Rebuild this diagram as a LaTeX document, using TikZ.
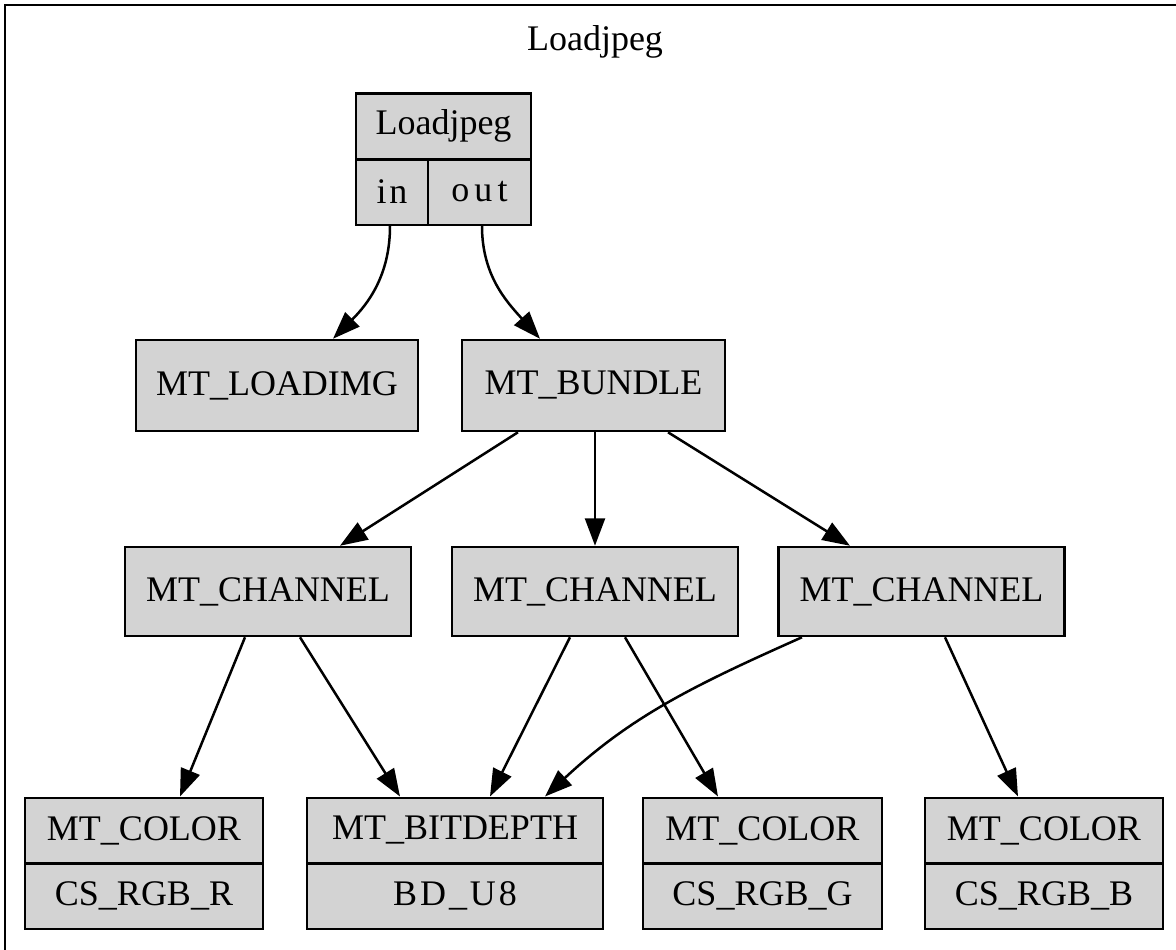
\documentclass[tikz,border=0pt]{standalone}
\usepackage{fontspec}
\setmainfont{Liberation Serif}
\usetikzlibrary{ arrows.meta, % For the filled arrow heads
                 calc,        % For shifted end points on the nodes
               }
\definecolor{lightgrey}{HTML}{D3D3D3}
\tikzstyle{edge} = [-{Triangle[length=11pt,width=8pt]}, line width=1pt]
\tikzstyle{block} = [rectangle, draw=black, line width=1pt, fill=lightgrey, inner sep=0pt, font=\fontsize{14.4}{16}\selectfont]
\tikzstyle{channel} = [block, minimum width=114.4pt, minimum height=35.6pt]
\tikzstyle{field} = [block, minimum height=26.2pt]
\newcommand{\spaced}[2]{{\addfontfeature{LetterSpace=#1}#2}}

\begin{document}
\begin{tikzpicture}[x=0.4pt, y=0.4pt]
  \clip (0,0) rectangle (1176,-949);
  \draw[line width=1pt] (5,-5) rectangle (1200,-980);
  \node (title) [font=\fontsize{14.4}{16}\selectfont] at (595,-42) {Loadjpeg};

  % the record on top
  \node (jpeg) [field, minimum width=70pt] at (443.5,-126) {Loadjpeg};
  \node (jin) [field, minimum width=28.8pt] at (392,-192) {\spaced{8}{in}};
  \node (jout) [field, minimum width=41.2pt] at (479.5,-192) {\spaced{14}{out}};

  \node (loadimg) [block, minimum width=112.8pt, minimum height=36.4pt] at (277,-385.5) {MT\_LOADIMG};
  \node (bundle) [block, minimum width=105.2pt, minimum height=36.4pt] at (593.5,-385.5) {MT\_BUNDLE};

  \node (ch1) [channel] at (268,-591.5) {MT\_CHANNEL};
  \node (ch2) [channel] at (595,-591.5) {MT\_CHANNEL};
  \node (ch3) [channel] at (921.5,-591.5) {MT\_CHANNEL};

  \node (colr) [field, minimum width=95.2pt] at (144,-830.5) {MT\_COLOR};
  \node (colrv) [field, minimum width=95.2pt] at (144,-896) {CS\_RGB\_R};
  \node (bd) [field, minimum width=118.4pt] at (455,-830.5) {MT\_BITDEPTH};
  \node (bdv) [field, minimum width=118.4pt] at (455,-896) {\spaced{8}{BD\_U8}};
  \node (colg) [field, minimum width=95.6pt] at (762.5,-830.5) {MT\_COLOR};
  \node (colgv) [field, minimum width=95.6pt] at (762.5,-896) {CS\_RGB\_G};
  \node (colb) [field, minimum width=95.2pt] at (1044,-830.5) {MT\_COLOR};
  \node (colbv) [field, minimum width=95.2pt] at (1044,-896) {CS\_RGB\_B};

  \draw[edge] ($(jin.south)+(-2,0)$) to[out=-90, in=45] ($(loadimg.north)+(56,0)$);
  \draw[edge] ($(jout.south)+(2.5,0)$) to[out=-90, in=132] ($(bundle.north)+(-53.5,0)$);

  \draw[edge] ($(bundle.south)+(-75.5,0)$) -- ($(ch1.north)+(72,0)$);
  \draw[edge] ($(bundle.south)+(1.5,0)$) -- (ch2.north);
  \draw[edge] ($(bundle.south)+(74.5,0)$) -- ($(ch3.north)+(-71.5,0)$);

  \draw[edge] ($(ch1.south)+(-23,0)$) -- ($(colr.north)+(36,0)$);
  \draw[edge] ($(ch1.south)+(32,0)$) -- ($(bd.north)+(-55,0)$);
  \draw[edge] ($(ch2.south)+(-25,0)$) -- ($(bd.north)+(35,0)$);
  \draw[edge] ($(ch2.south)+(30,0)$) -- ($(colg.north)+(-44.5,0)$);
  \draw[edge] ($(ch3.south)+(-119.5,0)$) to[out=204, in=43] ($(bd.north)+(90,0)$);
  \draw[edge] ($(ch3.south)+(23.5,0)$) -- ($(colb.north)+(-26,0)$);

\end{tikzpicture}
\end{document}
